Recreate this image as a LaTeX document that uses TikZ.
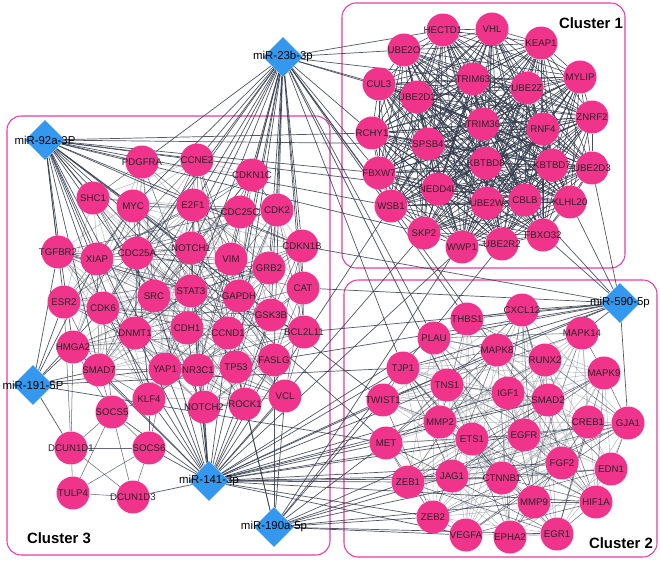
\documentclass[tikz,border=0pt]{standalone}
\usepackage{fontspec}
\setmainfont{Liberation Sans}
\usetikzlibrary{shapes.geometric,backgrounds}
\definecolor{genepink}{RGB}{240,52,140}
\definecolor{mirblue}{RGB}{52,152,238}
\definecolor{boxpink}{RGB}{232,60,160}
\definecolor{edgedark}{RGB}{50,58,76}
\definecolor{edgelight}{RGB}{165,170,180}
\tikzset{
  gene/.style={circle, fill=genepink, minimum size=0.66cm, inner sep=0pt,
    font=\fontsize{5.5}{6}\selectfont, text=black!85},
  mirna/.style={diamond, fill=mirblue, minimum size=0.8cm, inner sep=0pt},
  mirlbl/.style={font=\fontsize{6.5}{7}\selectfont, inner sep=0pt},
  clbox/.style={draw=boxpink, line width=0.6pt, rounded corners=8pt},
  cltitle/.style={font=\bfseries\fontsize{8.5}{10}\selectfont},
  dedge/.style={draw=edgedark, line width=0.3pt, opacity=0.75},
  kedge/.style={draw=edgedark, line width=0.35pt, opacity=0.9},
  ledge/.style={draw=edgelight, line width=0.3pt, opacity=0.8},
  medge/.style={draw=edgedark, line width=0.4pt, opacity=0.85},
}
\begin{document}
\begin{tikzpicture}[x=0.02cm, y=-0.02cm]
\useasboundingbox (0,0) rectangle (660,561);
\def\clA{HECTD1,VHL,KEAP1,UBE2O,CUL3,TRIM63,UBE2Z,MYLIP,UBE2D1,ZNRF2,TRIM36,RNF4,RCHY1,SPSB4,KBTBD8,KBTBD7,UBE2D3,FBXW7,NEDD4L,UBE2W,CBLB,KLHL20,WSB1,SKP2,FBXO32,WWP1,UBE2R2} %Cluster 1
\def\clB{THBS1,CXCL12,PLAU,MAPK14,MAPK8,RUNX2,TJP1,MAPK9,TNS1,IGF1,SMAD2,TWIST1,CREB1,GJA1,MMP2,ETS1,EGFR,MET,FGF2,EDN1,JAG1,ZEB1,CTNNB1,MMP9,HIF1A,ZEB2,VEGFA,EPHA2,EGR1} %Cluster 2
\def\clC{PDGFRA,CCNE2,CDKN1C,SHC1,MYC,E2F1,CDC25C,CDK2,TGFBR2,XIAP,CDC25A,NOTCH1,VIM,CDKN1B,GRB2,CAT,ESR2,CDK6,SRC,STAT3,GAPDH,GSK3B,CDH1,DNMT1,CCND1,BCL2L11,HMGA2,SMAD7,YAP1,NR3C1,TP53,FASLG,VCL,KLF4,NOTCH2,ROCK1} %Cluster 3
%Cluster 1
\foreach \n/\x/\y in {HECTD1/443/30, VHL/492/29, KEAP1/541/43, UBE2O/404/50, CUL3/379/84,
  TRIM63/473/79, UBE2Z/527/88, MYLIP/580/77, UBE2D1/417/97, ZNRF2/592/117, TRIM36/483/124,
  RNF4/543/129, RCHY1/372/133, SPSB4/428/144, KBTBD8/486/163, UBE2D3/592/168, KBTBD7/552/165,
  FBXW7/379/173, NEDD4L/438/189, UBE2W/487/203, CBLB/525/200, KLHL20/570/202, WSB1/391/206,
  SKP2/424/233, FBXO32/543/235, WWP1/462/247, UBE2R2/502/244}
  \node[gene] (\n) at (\x,\y) {\makebox[0pt]{\n}};
%Cluster 2
\foreach \n/\x/\y in {THBS1/467/319, CXCL12/522/310, PLAU/434/338, MAPK14/582/333, MAPK8/497/350,
  RUNX2/545/360, TJP1/403/368, MAPK9/604/373, TNS1/447/385, IGF1/508/393, SMAD2/548/400,
  TWIST1/383/400, CREB1/588/422, GJA1/628/423, MMP2/440/422, ETS1/472/439, EGFR/524/435,
  MET/386/443, FGF2/562/463, EDN1/611/469, JAG1/452/476, ZEB1/408/482, CTNNB1/502/478,
  MMP9/534/502, HIF1A/596/502, ZEB2/433/517, VEGFA/466/535, EPHA2/510/537, EGR1/557/534}
  \node[gene] (\n) at (\x,\y) {\makebox[0pt]{\n}};
%Cluster 3
\foreach \n/\x/\y in {PDGFRA/142/162, CCNE2/197/160, CDKN1C/252/175, SHC1/93/198, MYC/133/206,
  E2F1/193/205, CDC25C/240/212, CDK2/277/210, TGFBR2/58/252, XIAP/97/259, CDC25A/137/253,
  NOTCH1/191/248, VIM/231/259, CDKN1B/302/246, GRB2/269/268, CAT/303/288, ESR2/64/302,
  CDK6/103/308, SRC/154/296, STAT3/191/291, GAPDH/239/296, GSK3B/271/315, CDH1/187/328,
  DNMT1/135/333, CCND1/228/333, BCL2L11/304/332, HMGA2/73/347, SMAD7/99/370, YAP1/165/369,
  NR3C1/198/370, TP53/236/367, FASLG/274/360, VCL/285/396, KLF4/149/399, NOTCH2/204/407,
  ROCK1/245/404, SOCS5/112/412, DCUN1D1/71/448, SOCS6/149/448, TULP4/73/493, DCUN1D3/133/497}
  \node[gene] (\n) at (\x,\y) {\makebox[0pt]{\n}};
%miRNA
\foreach \n/\x/\y in {m23b/283/57, m92a/45/140, m191/33/385,
  m141/209/481, m190/274/527, m590/620/303}
  \node[mirna] (\n) at (\x,\y) {};
\foreach \n/\t in {m23b/miR-23b-3p, m92a/miR-92a-3P, m191/miR-191-5P,
  m141/miR-141-3p, m190/miR-190a-5p, m590/miR-590-5p}
  \node[mirlbl] at (\n) {\t};
\node[cltitle] (t1) at (591,23) {Cluster 1};
\node[cltitle] (t2) at (621,543) {Cluster 2};
\node[cltitle] (t3) at (59,538) {Cluster 3};

\begin{pgfonlayer}{background}
  \fill[white] (0,0) rectangle (660,561);
  \draw[clbox] (342,3) rectangle (625,268);
  \draw[clbox] (344,280) rectangle (657,557);
  \draw[clbox] (7,116) rectangle (330,555);
  %Cluster 1: almost every pair
  \foreach \a [count=\i] in \clA {
    \foreach \b [count=\j] in \clA {
      \ifnum\j>\i \draw[kedge] (\a) -- (\b); \fi
    }
  }
  \pgfmathsetseed{23}
  %Cluster 2
  \foreach \a [count=\i] in \clB {
    \foreach \b [count=\j] in \clB {
      \ifnum\j>\i
        \pgfmathsetmacro\r{rnd}
        \ifdim\r pt<0.18pt \draw[dedge] (\a) -- (\b);
        \else\ifdim\r pt<0.45pt \draw[ledge] (\a) -- (\b); \fi\fi
      \fi
    }
  }
  %Cluster 3
  \foreach \a [count=\i] in \clC {
    \foreach \b [count=\j] in \clC {
      \ifnum\j>\i
        \pgfmathsetmacro\r{rnd}
        \ifdim\r pt<0.22pt \draw[dedge] (\a) -- (\b);
        \else\ifdim\r pt<0.40pt \draw[ledge] (\a) -- (\b); \fi\fi
      \fi
    }
  }
  \foreach \a/\b in {SOCS5/DCUN1D1, SOCS5/SOCS6, SOCS5/TULP4, SOCS5/DCUN1D3, DCUN1D1/SOCS6,
    DCUN1D1/TULP4, DCUN1D1/DCUN1D3, SOCS6/TULP4, SOCS6/DCUN1D3, TULP4/DCUN1D3, SOCS5/SMAD7,
    SOCS5/HMGA2, DCUN1D1/HMGA2, DCUN1D1/ESR2, SOCS6/KLF4, SOCS6/YAP1, SOCS5/KLF4, SOCS5/CDK6}
    \draw[dedge] (\a) -- (\b);
  %miRNA targets
  \foreach \g in {UBE2O,CUL3,RCHY1,UBE2D1,TRIM63,FBXW7,WSB1,HECTD1,
    PDGFRA,CCNE2,CDKN1C,MYC,E2F1,CDC25C,CDK2,CDC25A,NOTCH1,VIM,CDKN1B,GRB2,CAT,STAT3,
    GAPDH,GSK3B,CCND1,BCL2L11,TP53,FASLG,SRC,CDK6,THBS1,PLAU,TJP1,TNS1,MAPK8}
    \draw[medge] (m23b) -- (\g);
  \foreach \g in {RCHY1,FBXW7,WSB1,SPSB4,NEDD4L,SKP2,PDGFRA,SHC1,MYC,TGFBR2,XIAP,CDC25A,
    ESR2,CDK6,HMGA2,SRC,STAT3,NOTCH1,CCNE2,E2F1,CDKN1B,YAP1,KLF4,SMAD7,DNMT1,TWIST1,MET}
    \draw[medge] (m92a) -- (\g);
  \foreach \g in {HMGA2,SMAD7,ESR2,TGFBR2,CDK6,XIAP,YAP1,DCUN1D1,MET,TJP1}
    \draw[medge] (m191) -- (\g);
  \foreach \g in {SOCS6,DCUN1D3,KLF4,YAP1,NR3C1,NOTCH2,ROCK1,TP53,CCND1,CDH1,DNMT1,FASLG,
    VCL,SMAD7,SOCS5,GSK3B,STAT3,SRC,NOTCH1,CDK6,HMGA2,TWIST1,MET,ZEB1,ZEB2,JAG1,TJP1,
    TNS1,MMP2,ETS1,CTNNB1,EGFR,VEGFA,IGF1,PLAU,MAPK8,SMAD2,FGF2,HIF1A,SKP2,WWP1,WSB1}
    \draw[medge] (m141) -- (\g);
  \foreach \g in {VCL,ROCK1,TP53,FASLG,ZEB1,ZEB2,MET,TWIST1,JAG1,ETS1,MMP9,VEGFA,CTNNB1,
    UBE2R2,UBE2W,EGR1}
    \draw[medge] (m190) -- (\g);
  \foreach \g in {CXCL12,THBS1,PLAU,MAPK14,MAPK8,TJP1,GJA1,KLHL20,FBXO32,UBE2D3,CBLB,
    CAT,BCL2L11,FASLG,CDKN1B,TWIST1}
    \draw[medge] (m590) -- (\g);
\end{pgfonlayer}
\end{tikzpicture}
\end{document}
